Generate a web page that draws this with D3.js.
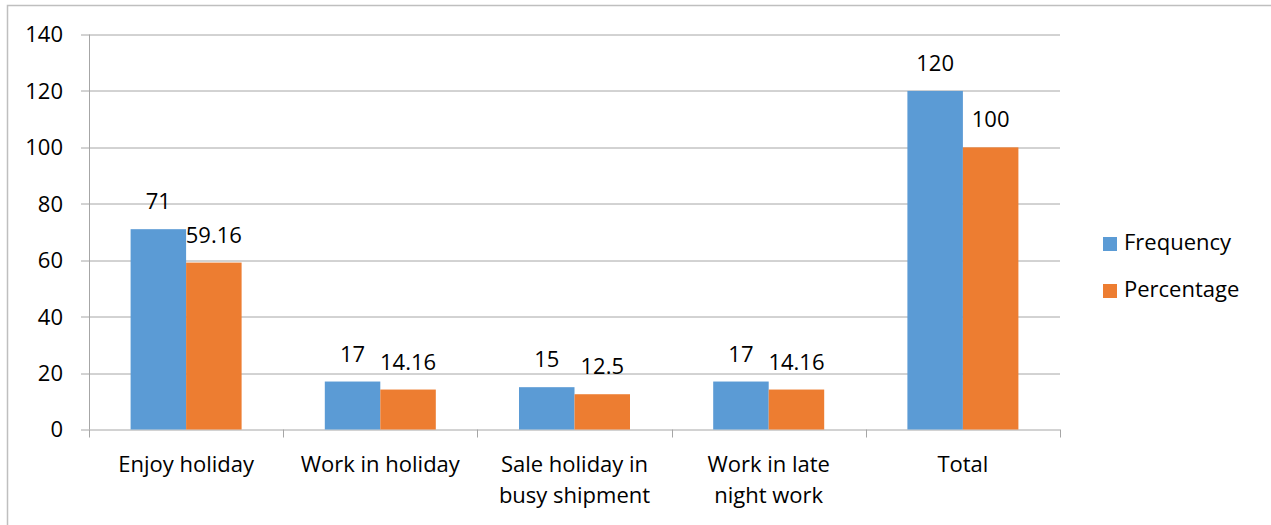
<!DOCTYPE html>
<html>
<head>
<meta charset="utf-8">
<script src="https://cdn.jsdelivr.net/npm/d3@7"></script>
<style>
  html, body { margin: 0; padding: 0; background: #fff; }
  svg { display: block; font-family: "Open Sans", "Noto Sans", sans-serif; }
</style>
</head>
<body>
<svg id="chart" width="1271" height="525"></svg>
<script>
// Category names (multi-line labels split on "\n")
const categories = [
  "Enjoy holiday",
  "Work in holiday",
  "Sale holiday in\nbusy shipment",
  "Work in late\nnight work",
  "Total"
];
const seriesNames = ["Frequency", "Percentage"];
const frequency = [71, 17, 15, 17, 120];
const percentage = [59.16, 14.16, 12.5, 14.16, 100];
const yTicks = [0, 20, 40, 60, 80, 100, 120, 140];
const colors = ["#5B9BD5", "#ED7D31"];

const series = [frequency, percentage];
const FS = 22;

const svg = d3.select("#chart");
const margin = { left: 89, right: 211, top: 34.5, bottom: 95.5 };
const W = 1271, H = 525;
const plotW = W - margin.left - margin.right;
const plotH = H - margin.top - margin.bottom;

// outer chart border
svg.append("rect")
  .attr("x", 7.5).attr("y", 5.5)
  .attr("width", 1300).attr("height", 600)
  .attr("fill", "none").attr("stroke", "#BFBFBF").attr("stroke-width", 1.5);

const g = svg.append("g").attr("transform", `translate(${margin.left},${margin.top})`);

const x0 = d3.scaleBand().domain(d3.range(categories.length)).range([0, plotW]).paddingInner(0).paddingOuter(0);
const barW = 55.5;
const y = d3.scaleLinear().domain([0, 140]).range([plotH, 0]);

// horizontal gridlines + left ticks
g.append("g").selectAll("line").data(yTicks).join("line")
  .attr("x1", -8).attr("x2", plotW)
  .attr("y1", d => Math.round(y(d)) + 0.5).attr("y2", d => Math.round(y(d)) + 0.5)
  .attr("stroke", "#A6A6A6").attr("stroke-width", 1);

// y-axis line
g.append("line").attr("x1", 0.5).attr("x2", 0.5).attr("y1", 0).attr("y2", plotH)
  .attr("stroke", "#A6A6A6");

// y tick labels
g.append("g").selectAll("text").data(yTicks).join("text")
  .attr("x", -26).attr("y", d => y(d)).attr("dy", "0.36em")
  .attr("text-anchor", "end").attr("font-size", FS).attr("fill", "#000")
  .text(d => d);

// x-axis category separator ticks
const bounds = d3.range(categories.length + 1).map(i => i * x0.bandwidth());
g.append("g").selectAll("line").data(bounds).join("line")
  .attr("x1", d => Math.round(d) + 0.5).attr("x2", d => Math.round(d) + 0.5)
  .attr("y1", plotH).attr("y2", plotH + 8)
  .attr("stroke", "#A6A6A6");

// bars
series.forEach((vals, si) => {
  g.append("g").selectAll("rect").data(vals).join("rect")
    .attr("x", (d, i) => x0(i) + x0.bandwidth() / 2 - barW + si * barW)
    .attr("y", d => y(d))
    .attr("width", barW)
    .attr("height", d => plotH - y(d))
    .attr("fill", colors[si]);

  // value labels
  g.append("g").selectAll("text").data(vals).join("text")
    .attr("x", (d, i) => x0(i) + x0.bandwidth() / 2 - barW / 2 + si * barW)
    .attr("y", d => y(d) - 20)
    .attr("text-anchor", "middle").attr("font-size", FS).attr("fill", "#000")
    .text(d => d);
});

// category labels
const catG = g.append("g").selectAll("text").data(categories).join("text")
  .attr("x", (d, i) => x0(i) + x0.bandwidth() / 2)
  .attr("y", plotH + 42.5)
  .attr("text-anchor", "middle").attr("font-size", FS).attr("fill", "#000");
catG.each(function(d) {
  const t = d3.select(this);
  const x = t.attr("x");
  d.split("\n").forEach((line, k) => {
    t.append("tspan").attr("x", x).attr("dy", k === 0 ? 0 : 31).text(line);
  });
});

// legend
const lg = svg.append("g").attr("transform", "translate(1103,237)");
seriesNames.forEach((name, i) => {
  lg.append("rect").attr("x", 0).attr("y", i * 47).attr("width", 14).attr("height", 14).attr("fill", colors[i]);
  lg.append("text").attr("x", 21).attr("y", i * 47 + 13).attr("font-size", FS).attr("fill", "#000").text(name);
});
</script>
</body>
</html>
